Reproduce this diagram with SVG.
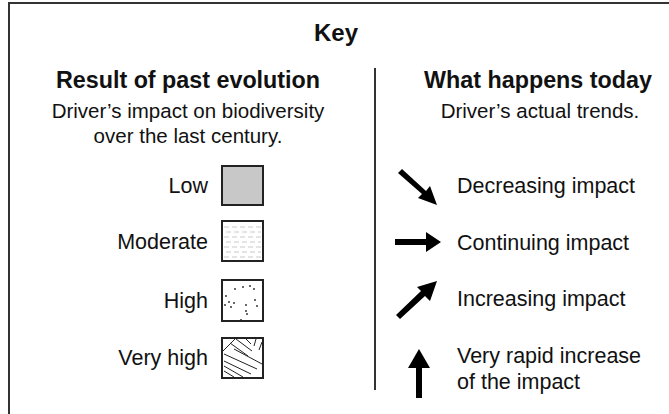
<svg xmlns="http://www.w3.org/2000/svg" width="669" height="414" viewBox="0 0 669 414">
<style>
text{font-family:"Liberation Sans",Arial,sans-serif;font-size:21.5px;fill:#111}
.b{font-weight:bold;font-size:23.3px}
.d{font-size:20.5px}
.c{text-anchor:middle}
.e{text-anchor:end}
.box{stroke:#222;stroke-width:2}
.hl{stroke:#bbb;stroke-width:0.8;stroke-dasharray:5 3}
.hat{stroke:#222;stroke-width:1;fill:none}
.dot{fill:#222}
.arr{fill:#000}
</style>
<rect width="669" height="414" fill="#fff"/>
<path d="M9,414 V3 H669" fill="none" stroke="#333" stroke-width="2"/>
<line x1="375" y1="68" x2="375" y2="390" stroke="#333" stroke-width="2"/>
<text class="b c" x="336" y="41" style="font-size:24px">Key</text>
<text class="b c" x="188" y="88">Result of past evolution</text>
<text class="d c" x="188" y="118">Driver’s impact on biodiversity</text>
<text class="d c" x="188" y="143">over the last century.</text>
<text class="b c" x="538" y="88">What happens today</text>
<text class="d c" x="540" y="118">Driver’s actual trends.</text>

<g id="low">
<text class="e" x="208" y="193">Low</text>
<rect class="box" x="222" y="166" width="41" height="39" fill="#c8c8c8"/>
</g>
<g id="moderate">
<text class="e" x="208" y="249">Moderate</text>
<rect class="box" x="222" y="221" width="41" height="40" fill="#fff"/>
<g class="hl">
<line x1="224" y1="227" x2="261" y2="227"/>
<line x1="226" y1="232" x2="261" y2="232"/>
<line x1="224" y1="237" x2="261" y2="237"/>
<line x1="226" y1="242" x2="261" y2="242"/>
<line x1="224" y1="247" x2="261" y2="247"/>
<line x1="226" y1="252" x2="261" y2="252"/>
<line x1="224" y1="257" x2="261" y2="257"/>
</g>
</g>
<g id="high">
<text class="e" x="208" y="308">High</text>
<rect class="box" x="222" y="280" width="41" height="41" fill="#fff"/>
<g class="dot">
<circle cx="235" cy="289" r="0.9"/><circle cx="243" cy="287" r="0.9"/><circle cx="250" cy="286" r="0.9"/><circle cx="254" cy="289" r="0.9"/>
<circle cx="226" cy="296" r="0.9"/><circle cx="255" cy="300" r="0.9"/><circle cx="229" cy="302" r="0.9"/><circle cx="234" cy="303" r="0.9"/>
<circle cx="246" cy="305" r="0.9"/><circle cx="257" cy="306" r="0.9"/><circle cx="225" cy="305" r="0.9"/><circle cx="231" cy="307" r="0.9"/>
<circle cx="246" cy="311" r="0.9"/><circle cx="247" cy="314" r="0.9"/><circle cx="241" cy="320" r="0.9"/>
</g>
</g>
<g id="veryhigh">
<text class="e" x="208" y="365">Very high</text>
<rect class="box" x="222" y="338" width="41" height="40" fill="#fff"/>
<g class="hat">
<line x1="223" y1="351" x2="235" y2="339"/>
<line x1="230" y1="343" x2="248" y2="356"/>
<line x1="236" y1="339" x2="252" y2="351"/>
<line x1="246" y1="339" x2="251" y2="344"/>
<line x1="256" y1="339" x2="254" y2="346"/>
<line x1="262" y1="342" x2="259" y2="350"/>
<line x1="224" y1="354" x2="257" y2="369"/>
<line x1="224" y1="361" x2="251" y2="374"/>
<line x1="224" y1="366" x2="243" y2="377"/>
<line x1="224" y1="371" x2="234" y2="377"/>
<line x1="234" y1="349" x2="262" y2="364"/>
</g>
</g>

<g id="decreasing">
<polygon class="arr" points="398,173 402,169 426,191 430,186 437,205 418,198 422,194"/>
<text x="457" y="193">Decreasing impact</text>
</g>
<g id="continuing">
<polygon class="arr" points="395,239 426,239 426,232 441,242 426,252 426,245 395,245"/>
<text x="457" y="250">Continuing impact</text>
</g>
<g id="increasing">
<polygon class="arr" points="400,319 396,315 421,291 417,287 437,281 430,301 425,296"/>
<text x="457" y="306">Increasing impact</text>
</g>
<g id="rapid">
<polygon class="arr" points="416,398 422,398 422,368 430,368 419,349 408,368 416,368"/>
<text x="457" y="363">Very rapid increase</text>
<text x="457" y="389">of the impact</text>
</g>
</svg>
